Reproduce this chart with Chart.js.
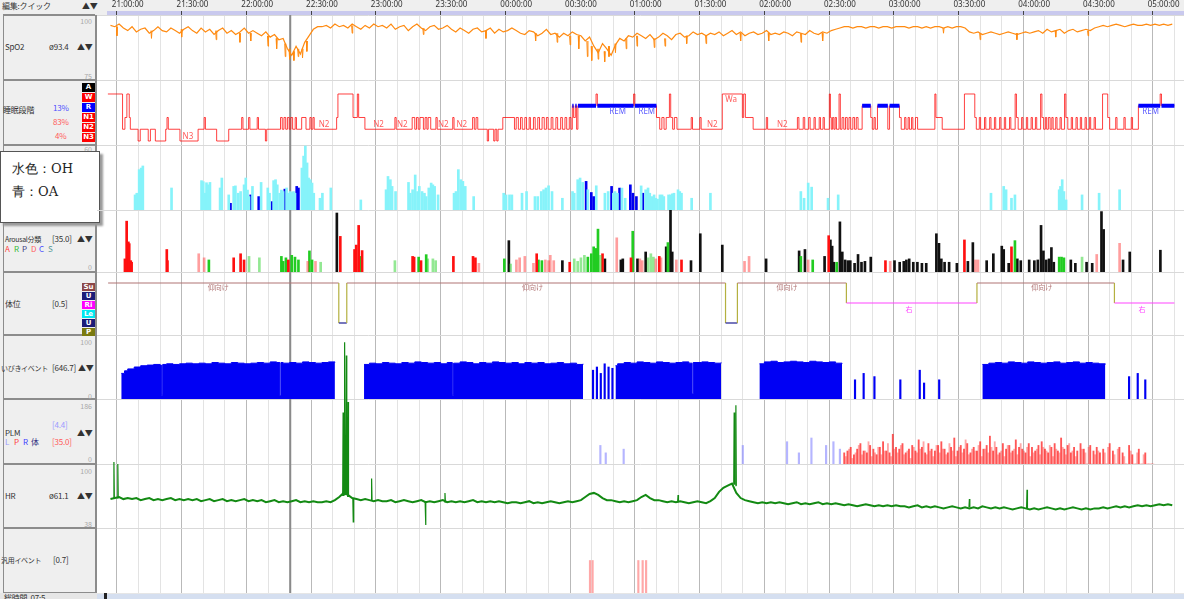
<!DOCTYPE html>
<html>
<head>
<meta charset="utf-8">
<script src="https://cdn.jsdelivr.net/npm/chart.js@4.4.0/dist/chart.umd.min.js"></script>
<style>
html,body{margin:0;padding:0;background:#fff;}
body{width:1184px;height:599px;position:relative;overflow:hidden;font-family:"Noto Sans CJK JP","Noto Sans",sans-serif;color:#333;}
#head{position:absolute;left:0;top:0;width:1184px;height:15px;background:#efefef;}
#band{position:absolute;left:107px;top:11px;width:1077px;height:4px;background:#c9c9ee;}
#side{position:absolute;left:0;top:15px;width:95px;height:578px;background:#efefef;border-right:2px solid #8c8c8c;}
#side .ln{position:absolute;left:3px;top:0;width:1px;height:578px;background:#8c8c8c;}
.pn{position:absolute;left:3px;width:92px;height:2px;background:#8c8c8c;}
.t{position:absolute;font-size:8px;line-height:10px;white-space:nowrap;letter-spacing:-0.2px;}
.s{font-size:7px;letter-spacing:-0.3px;}
.n{position:absolute;font-size:7px;line-height:8px;color:#a8a8a8;text-align:right;width:30px;left:62px;}
.bx{position:absolute;left:82px;width:13px;height:9px;color:#fff;font-size:7px;font-weight:bold;text-align:center;line-height:9px;font-family:"DejaVu Sans",sans-serif;}
#note{position:absolute;left:0;top:151px;width:98px;height:70px;background:#fff;border:1px solid #555;box-shadow:3px 3px 2px #9a9a9a;}
#note div{position:absolute;left:11px;font-size:13px;line-height:16px;font-family:"DejaVu Serif",serif;color:#222;}
#foot{position:absolute;left:0;top:593px;width:1184px;height:6px;background:#e6e6e6;}
#scroll{position:absolute;left:97px;top:594px;width:1087px;height:5px;background:#d5dff0;}
#mark{position:absolute;left:104px;top:593px;width:3px;height:6px;background:#222;}
canvas{position:absolute;left:97px;top:0;}
</style>
</head>
<body>
<div id="head"></div><div id="band"></div>
<div class="t" style="left:2px;top:1px">編集:クイック</div>
<div class="t" style="left:82px;top:1px">▲▼</div>
<div id="side"><div class="ln"></div></div>
<div class="pn" style="top:14px"></div>
<div class="pn" style="top:79px"></div>
<div class="pn" style="top:144px"></div>
<div class="pn" style="top:209px"></div>
<div class="pn" style="top:271px"></div>
<div class="pn" style="top:334px"></div>
<div class="pn" style="top:398px"></div>
<div class="pn" style="top:463px"></div>
<div class="pn" style="top:527px"></div>
<div class="pn" style="top:592px"></div>

<div class="n" style="top:17px">100</div>
<div class="t" style="left:5px;top:42px">SpO2</div>
<div class="t" style="left:49px;top:42px">ø93.4</div>
<div class="t" style="left:77px;top:42px">▲▼</div>
<div class="n" style="top:72px">75</div>

<div class="t" style="left:3px;top:105px">睡眠段階</div>
<div class="t" style="left:53px;top:103px;color:#5050ff">13%</div>
<div class="t" style="left:53px;top:117px;color:#ff5a5a">83%</div>
<div class="t" style="left:55px;top:131px;color:#ff5a5a">4%</div>
<div class="bx" style="top:83px;background:#000">A</div>
<div class="bx" style="top:93px;background:#f00">W</div>
<div class="bx" style="top:103px;background:#00f">R</div>
<div class="bx" style="top:113px;background:#f00">N1</div>
<div class="bx" style="top:123px;background:#f00">N2</div>
<div class="bx" style="top:133px;background:#f00">N3</div>

<div class="n" style="top:145px">60</div>

<div class="t s" style="left:5px;top:234px">Arousal分類</div>
<div class="t" style="left:52px;top:234px">[35.0]</div>
<div class="t" style="left:77px;top:234px">▲▼</div>
<div class="t" style="left:5px;top:244px;color:#ff4040">A</div>
<div class="t" style="left:14px;top:244px;color:#33bb33">R</div>
<div class="t" style="left:22px;top:244px;color:#404080">P</div>
<div class="t" style="left:31px;top:244px;color:#ff6060">D</div>
<div class="t" style="left:39px;top:244px;color:#5050ff">C</div>
<div class="t" style="left:48px;top:244px;color:#5a9a9a">S</div>
<div class="n" style="top:263px">0</div>

<div class="t" style="left:5px;top:299px">体位</div>
<div class="t" style="left:52px;top:299px">[0.5]</div>
<div class="bx" style="top:283px;height:8px;line-height:8px;background:#8c4646">Su</div>
<div class="bx" style="top:292px;height:8px;line-height:8px;background:#1c1c78">U</div>
<div class="bx" style="top:301px;height:8px;line-height:8px;background:#ff00ff">Ri</div>
<div class="bx" style="top:310px;height:8px;line-height:8px;background:#00e8f0">Le</div>
<div class="bx" style="top:319px;height:8px;line-height:8px;background:#1c1c78">U</div>
<div class="bx" style="top:328px;height:8px;line-height:8px;background:#7a7a10">P</div>

<div class="n" style="top:338px">100</div>
<div class="t s" style="left:1px;top:363px">いびきイベント</div>
<div class="t" style="left:52px;top:363px">[646.7]</div>
<div class="t" style="left:78px;top:363px">▲▼</div>
<div class="n" style="top:392px">0</div>

<div class="n" style="top:402px">186</div>
<div class="t" style="left:52px;top:420px;color:#9a9aff">[4.4]</div>
<div class="t" style="left:5px;top:428px">PLM</div>
<div class="t" style="left:77px;top:428px">▲▼</div>
<div class="t" style="left:5px;top:437px;color:#9a9aff">L</div>
<div class="t" style="left:14px;top:437px;color:#ff4040">P</div>
<div class="t" style="left:23px;top:437px;color:#4040ff">R</div>
<div class="t" style="left:31px;top:437px;color:#303080">体</div>
<div class="t" style="left:52px;top:437px;color:#ff5a5a">[35.0]</div>
<div class="n" style="top:455px">0</div>

<div class="n" style="top:467px">100</div>
<div class="t" style="left:5px;top:491px">HR</div>
<div class="t" style="left:49px;top:491px">ø61.1</div>
<div class="t" style="left:77px;top:491px">▲▼</div>
<div class="n" style="top:520px">38</div>

<div class="t s" style="left:1px;top:555px">汎用イベント</div>
<div class="t" style="left:53px;top:555px">[0.7]</div>

<div id="note"><div style="top:9px">水色：OH</div><div style="top:32px">青：OA</div></div>
<div id="foot"></div>
<div class="t" style="left:4px;top:593px">総時間 &nbsp;07:5</div>
<div id="scroll"></div><div id="mark"></div>

<canvas id="psg" width="1087" height="593"></canvas>
<script>
// 時間軸 (21:00 からの分)
var timeLabels = ['21:00:00','21:30:00','22:00:00','22:30:00','23:00:00','23:30:00','00:00:00','00:30:00','01:00:00','01:30:00','02:00:00','02:30:00','03:00:00','03:30:00','04:00:00','04:30:00','05:00:00'];
var cursorMinute = 75.3;

// SpO2 (2分ごと, -8分から)
var spo2Start = -8, spo2Step = 2;
var spo2 = [96,95.5,96.5,95,
 94,95.5,93.5,94.5,95,93,94,95.5,94,93.5,95,94,93,94.5,95.5,
 94,93,95,93.5,94.5,92.5,94,95,93,94,92.5,93.5,95,93,94,
 93,92,93.5,91.5,92.5,90.5,91,87,84.5,88,85,89.5,92,94.5,95.5,
 95.5,96,95,96.5,95.5,96,95,96.5,95.5,94.5,96,95,96.5,95.5,96,
 95,96.5,94.5,95.5,96,94,95.5,96.5,95,94,95.5,96,94.5,95,96,
 94.5,93.5,95,94,93,94.5,95,93.5,94,95,93,94.5,93.5,94,95,
 94,93,92.5,94,93.5,92,93,94.5,92.5,93,91.5,93,92,93.5,92.5,
 92,90,91.5,88,85.5,89,87,84.5,88.5,91,90,92,91.5,93,92,
 91,92.5,90.5,91.5,93,92,90.5,92.5,93,91.5,92,93.5,92.5,93,92,
 93,92.5,93.5,92,93,94,92.5,93.5,92,93,93.5,92.5,93,94,92.5,
 93,92.5,93.5,93,92,93.5,93,92.5,94,93,92.5,93.5,93,94,94.5,
 95,95.5,95.5,95,95.5,95.5,95,95.5,95.5,95,95.5,95.5,95,95.5,95.5,
 95.5,95,95.5,95.5,95,95.5,95,95.5,95.5,95,95.5,95,95.5,95.5,95,
 93.5,93,93.5,92.5,93,93.5,93,92.5,93,93.5,93,92.5,93,93.5,93,
 93.5,94,93,94.5,93.5,94,94.5,93,94,94.5,93.5,94,94.5,94,95,
 95.5,96,95.5,96,96.5,96,95.5,96,96.5,96,96,96.5,96,96.5,96,
 96.5,96,96.5];
// 短い低下 [分, 基線, 最低値]
var spo2Dips = [[-5,95.5,92],[11,94,91],[25,94.5,91.5],[41,94,90.5],[52,93,89.5],[57,93,90],[65,92,88],[69,91,87],[73,89,84],[75,87,83],[77,86,82.5],[79,87,84],[81,87,83.5],[83,90,86],[104,96,93],[137,95,92.5],[166,94,91],[189,93,90],[199,93,89.5],[205,92,88.5],[209,92,87],[213,90,84],[215,88,82.5],[218,87,83],[221,86,82],[223,88,84],[226,89,85.5],[231,91,87],[236,92,88],[244,91,87.5],[249,91,88],[259,92,89],[268,92,89],[284,93,90],[297,93,90],[312,93,89.5],[322,93,90],[378,95,93],[395,93,90.5],[412,93,90.5],[430,94,91.5],[445,94,92]];

// 睡眠段階 [開始分, 段階] 4=W 3=R 2=N1 1=N2 0=N3
var hypnogram = [[-9.2,4],[-2.4,1],[-1.3,2],[-0.4,4],[0.7,2],[1.2,1],[4.8,0],[5.8,1],[9.5,0],[10.5,1],[12.8,0],[17.6,1],[18.2,2],[18.8,1],[24.2,0],[32.6,1],[35.4,2],[36,1],[41.2,0],[46.8,1],[52.8,2],[53.4,1],[56,2],[56.6,1],[60,2],[60.6,1],[63.8,0],[64.4,1],[70.8,2],[71.6,1],[72.4,2],[73.2,1],[74,2],[74.8,1],[75.6,2],[76.4,1],[77.6,2],[78.2,1],[80.6,2],[82.6,1],[84.4,2],[85,1],[85.8,2],[86.4,1],[96.8,2],[97.4,4],[104.4,2],[106.4,4],[107,2],[109.9,1],[123.8,2],[124.4,1],[131.8,2],[133,1],[133.8,2],[134.6,1],[135.4,2],[137,1],[137.8,2],[138.6,1],[139.2,2],[140.4,1],[142.8,2],[143.4,1],[150.6,2],[151.2,1],[159.8,2],[160.6,1],[161.4,2],[162.2,1],[166.6,0],[167.2,1],[169.6,0],[170.2,1],[171,0],[171.6,1],[173.8,2],[179.2,1],[180,2],[181,1],[182,2],[182.8,1],[184,2],[184.8,1],[186,2],[186.6,1],[188,2],[188.8,1],[190,2],[190.8,1],[192,2],[193,1],[194,2],[194.8,1],[196.2,2],[197,1],[198.4,2],[199.2,1],[200.6,2],[201.4,1],[202.6,2],[203.4,1],[204.6,2],[205.4,1],[206,3],[206.6,2],[207.4,3],[208,1],[208.6,3],[217,4],[217.6,3],[234.4,4],[235,3],[245,2],[246.5,1],[247.5,2],[248.5,1],[249.5,2],[251,4],[251.6,2],[252.5,1],[253.3,2],[254.5,1],[261.1,2],[261.7,1],[265.1,2],[265.7,1],[275.5,4],[284.8,2],[285.4,4],[286.2,2],[289.8,1],[295.9,2],[296.5,1],[310.3,2],[311,1],[313,2],[313.7,1],[315.5,2],[316.2,1],[318,2],[318.6,1],[320.4,2],[321,1],[322.2,2],[322.8,1],[325.1,4],[325.6,2],[326,1],[326.6,2],[327.2,1],[327.8,2],[328.4,1],[329.6,4],[330.2,1],[331,2],[331.8,1],[332.6,2],[333.4,1],[334.2,2],[335,1],[336,2],[336.8,1],[337.6,2],[338.4,1],[340.3,3],[344.3,2],[345,1],[345.8,2],[346.4,1],[347.4,3],[352.2,1],[353,3],[357.6,2],[358.4,1],[360,2],[360.6,1],[361.6,2],[362.2,1],[363.2,2],[363.8,1],[365,2],[366,1],[374,4],[374.5,2],[377.4,1],[387.7,4],[392.5,2],[393.2,1],[394.6,2],[395.2,1],[397,2],[397.6,1],[399.4,2],[400,1],[401.6,2],[402.2,1],[404,2],[404.6,1],[406.2,2],[406.8,1],[408.6,2],[409.2,1],[411.2,4],[411.8,2],[412.6,1],[414.2,2],[414.8,1],[416.4,2],[417,1],[418.6,2],[419.2,1],[420.6,2],[421.2,1],[423,4],[423.6,2],[424.4,1],[425.2,2],[425.8,1],[426.6,2],[427.4,1],[428.2,2],[428.8,1],[430,2],[430.6,1],[432,2],[432.6,1],[434.1,4],[434.7,2],[435.6,1],[437.2,2],[437.8,1],[439.4,2],[440,1],[441.4,2],[442,1],[443.6,2],[444.2,1],[445.6,2],[446.2,1],[447.8,2],[448.4,1],[451.7,4],[454.1,2],[455,1],[457.8,2],[458.4,1],[461.6,2],[462.2,1],[465,2],[465.6,1],[468.3,3],[478.4,4],[479,3],[485,3]];
var stageNotes = [[27.9,0.38,'N3'],[91,1.38,'N2'],[116.2,1.38,'N2'],[127.2,1.38,'N2'],[146.2,1.38,'N2'],[154.8,1.38,'N2'],[270.9,1.38,'N2'],[303.3,1.38,'N2'],[227,2.45,'REM'],[240.5,2.45,'REM'],[474,2.45,'REM'],[279.6,3.5,'Wa']];

// 呼吸イベント [分, 値]
var ohEvents = [[3.4,14.4],[4.2,16],[5.3,38.5],[6.2,40],[7,42],[20.3,21],[34.2,28],[35,27],[35.7,16],[36.5,26],[37.3,24],[38.1,26.3],[42.8,21],[43.6,30.5],[46.8,14.4],[49.1,22.5],[49.9,23],[51.2,16],[52.3,17.6],[53.9,24],[54.7,30.5],[55.5,19],[56.2,12.8],[57.8,22.5],[61.8,26.3],[64.9,21],[65.7,16],[67.6,28],[68.5,28.9],[69.3,24],[70.4,16],[71.2,19],[72,17.6],[73.6,21],[74.4,16],[75.2,17.6],[76,16.7],[76.8,17.6],[77.5,16],[80.7,40],[81.5,51.4],[82.3,61],[83.1,44.9],[83.8,30.5],[84.6,28.9],[85.4,25.7],[86.2,16],[89.1,11.2],[90.2,16],[94.1,21],[108,9.6],[119.7,19.3],[120.6,32],[121.7,28.9],[122.5,22.5],[124.1,17.6],[130.1,26.3],[130.9,16],[132,19.3],[133.2,33.4],[134.3,17.6],[135.1,22.5],[136.4,17.6],[137.5,16],[138.3,12.8],[139.5,21],[140.6,25.7],[141.4,24],[142.2,22.5],[143.8,14.4],[151.2,16],[152.1,17.6],[153.2,38.5],[154.3,28.9],[155.3,27.3],[156.4,22.5],[160.3,12.8],[174.2,16],[175.3,14.4],[176.9,14.4],[178,14.4],[182.7,16],[184.8,17.6],[188.7,12.8],[190,12.8],[191.6,17.6],[192.7,19.3],[193.8,21],[195,23.1],[196.6,17.6],[201.4,11.2],[206.1,17.6],[206.9,16],[208.5,28.9],[209.6,30.5],[210.8,26.3],[213.2,19.3],[217.1,23.1],[221.1,16],[222.6,17.6],[225,16],[225.8,17.6],[226.9,16],[229,20.9],[230.5,11.2],[237.9,23],[240,19.3],[241.1,21],[241.9,16],[242.8,12.8],[243.9,14.4],[244.7,11.2],[245.5,10.3],[246.6,14.4],[247.6,14.4],[248.4,12.8],[250.6,14.4],[251.5,14.4],[252.3,15.4],[253.1,16],[255,19.3],[255.8,17.6],[256.6,16],[261.3,11.2],[270,16],[311.9,17.6],[313.4,11.2],[315.3,25.7],[316.9,21.8],[324.5,11.2],[329.2,14.4],[400,16],[405.9,22.5],[407,19.3],[409.5,11.2],[411.1,14.4],[431.6,19.3],[432.2,22.5],[433,28.9],[433.8,17.6],[434.8,9.6],[442.2,14.4],[450.1,16],[459.6,19.3]];
var oaEvents = [[47.6,6.4],[57,14.4],[60.7,12.8],[66.8,8],[72.8,19.9],[78.3,22.5],[79.1,21],[212.4,27.3],[214.8,16.7],[215.9,12.8],[224.2,22.5],[227.9,20.9],[232.9,24],[234.1,16],[235.7,12.8],[238.7,16]];

// Arousal [分, 値]
var arousalRed = [[-1.3,7.4],[-0.5,28.7],[0.3,17],[0.7,16],[1.4,6.4],[1.8,5.5],[18.1,12.7],[18.4,6.4],[49.1,8],[52.3,10.3],[53.9,6.8],[74.4,6.8],[98.5,20.1],[105.1,12.7],[105.9,15.2],[107,26.3],[108.6,12.1],[132,8.8],[132.7,8.4],[135.9,6.4],[150.9,8.8],[160,8.8],[161.1,8],[189.5,10.3],[204.8,5.5],[220,10.3],[233.2,8],[246.3,8.8],[256.6,6.8],[324.8,20.5],[351.1,6.4],[387.7,18.1],[409.5,14.2]];
var arousalPink = [[32.9,10.3],[35.4,8],[83.4,6],[87,6],[162.7,4.9],[180.1,6.8],[181.6,8],[184,8.8],[188,4.9],[193.5,6.8],[195,6.4],[195.8,9.4],[197.4,6.4],[226.6,19.3],[237.3,7.4],[238.4,6.4],[244.7,7.4],[247.1,8],[254.2,6.8],[285.8,6],[287.9,8.8],[315.3,6.8],[353.3,6],[392.8,6.8],[394,6.8],[449,9.9],[459.6,16.2]];
var arousalGreen = [[37.6,6.8],[71.2,8.8],[72,6],[73.3,8],[76,9.4],[77.5,8.4],[79.1,6.8],[84.2,11.9],[85.4,6.8],[108,8.8],[134.8,8.4],[138.3,9.8],[174.5,7.4],[190.3,6.8],[191.9,6.4],[213.2,8.4],[214.8,10.3],[215.9,14.2],[217.1,13.3],[217.9,24.2],[234,23],[250.3,16.6],[311.9,8.8],[317.4,6.8],[328.5,5.5],[411.1,17.7],[431.6,8.4],[432.7,8.4],[433.8,8]];
var arousalLime = [[56.2,8.8],[61,8],[89.4,5.5],[123.8,6.4],[139,7.4],[141.4,7.4],[142.7,6.4],[177.4,4.5],[206.9,7.4],[208.5,6],[210,8],[211.6,9.4],[219,9.4],[241.1,8],[242.4,10.3],[243.6,8.4],[442.2,8.4]];
var arousalBlack = [[96.9,33.3],[176.6,17.7],[201.4,6.4],[221.1,7.4],[228.5,6.8],[229.4,7.4],[236.2,7.4],[240,11.3],[249.5,14.2],[251.5,35],[252.3,11.3],[261,6.4],[265.3,21.6],[275.5,15.2],[295.8,7.4],[311.1,11.9],[313.8,12.7],[322.9,8.8],[325.6,18.1],[326.4,14.6],[327.2,5.5],[330,28.3],[331.1,11.3],[332.4,6.8],[333.7,6.4],[334.8,6.4],[336.8,4.9],[338.4,9.9],[340,5.5],[341.6,6],[344.3,8.4],[355.3,6.4],[357.7,5.5],[359.6,6],[360.8,6.8],[362.1,7.4],[364,5.5],[365.9,5.5],[368,4.9],[370,4.9],[374.7,21.6],[375.9,16.2],[377,7.4],[378.5,5.5],[380.6,5.5],[384.2,4.9],[389.3,6],[391.6,16.6],[398,6.4],[401.1,10.3],[405,14.6],[405.9,12.7],[408.2,4.9],[412.2,7.4],[413.8,6.4],[417.7,6.8],[420.1,6.4],[421.7,6.8],[423.2,26.3],[424.3,11.9],[425.6,6.8],[426.9,7.4],[428,13.8],[429.1,5.5],[437,6.8],[439.1,4.9],[444.3,5.5],[446.9,4.9],[451.2,34.1],[452.2,24],[461.2,6.8],[464.3,11.3],[478.5,12.3]];

// 体位 5=Su 4=U 3=Ri 2=Le 1=U 0=P
var posTimes = [-9.1, 97.8, 101.5, 277, 282.5, 333, 393.5, 457.2, 485];
var posLevels = [5, 1, 5, 1, 5, 3, 5, 3, 3];
var posNotes = [[42,4.55,'仰向け'],[187.5,4.55,'仰向け'],[305.5,4.55,'仰向け'],[423.5,4.55,'仰向け'],[362,2.4,'右'],[470,2.4,'右']];

// いびき
var snoreFill = [[-3,40],[-1.5,44],[0,47],[3,50],[6,52],[9,53],[12,54],[15,53],[15.6,6],[16.2,54],[18,55],[21,54],[24,55],[27,56],[30,55],[33,56],[36,55],[39,57],[42,56],[45,55],[48,57],[51,56],[54,55],[57,56],[60,57],[63,56],[66,58],[69,57],[70.5,5],[71,57],[72,56],[75,57],[78,56],[81,58],[84,57],[87,56],[90,57],[93,58],[96,57],[97.5,null],
 [109.5,54],[112,56],[115,55],[118,57],[121,56],[124,55],[127,57],[130,56],[133,58],[136,57],[139,56],[142,57],[145,55],[148,57],[150.4,6],[151,56],[154,58],[157,57],[160,55],[163,57],[166,56],[169,58],[172,57],[175,56],[178,57],[181,55],[184,57],[187,56],[190,57],[193,55],[196,56],[199,57],[202,55],[205,56],[208,54],[211,55],[214,null],
 [226,52],[227,55],[230,57],[233,56],[236,58],[239,57],[242,56],[245,58],[248,57],[251,56],[254,57],[257,58],[260,56],[261.5,8],[262,57],[266,58],[269,57],[272,56],[275,57],[277.3,null],
 [292.7,55],[295,58],[298,59],[301,57],[304,58],[307,59],[310,58],[313,57],[316,59],[319,58],[322,57],[325,58],[328,56],[331,55],[333,null],
 [396,54],[399,56],[402,57],[405,56],[408,58],[411,57],[414,56],[417,58],[420,57],[423,56],[426,57],[429,58],[432,56],[435,57],[438,58],[441,56],[444,57],[447,56],[450,55],[453,54],[455.2,null]];
var snoreBars = [[215.6,45],[217.4,50],[219.2,40],[221,55],[222.8,50],[224.6,48],[337,30],[341,40],[346,35],[358,30],[367,45],[369,25],[376,30],[464,35],[468,40],[471.5,30]];

// PLM
var plmStart = 332, plmStep = 1.5;
var plmRed = [6,7,9,5,8,11,7,6,10,8,
 5,9,12,7,6,16,9,8,11,6,
 8,10,7,13,9,6,11,8,7,10,
 12,8,6,9,14,7,10,8,11,6,
 9,7,12,8,10,15,7,9,6,11,
 8,10,7,13,9,8,6,11,9,7,
 10,12,8,6,9,11,7,14,8,10,
 6,9,7,11,8,0,10,7,9,6,
 8,0,11,7,0,9,6,0,10,5,
 0,8,0,6,0,0];
var plmPinkStart = 332.75;
var plmPink = [4,8,3,6,10,5,7,12,4,6,
 9,5,7,11,4,8,6,10,5,7,
 3,9,6,8,12,5,7,4,10,6,
 8,5,11,7,4,9,6,13,5,8,
 7,10,4,8,6,9,12,5,7,4,
 10,6,8,5,11,7,9,4,6,8,
 5,9,7,10,4,8,6,9,5,11,
 7,4,0,8,6,9,0,5,7,0,
 6,9,0,5,8,0,4,0,7,0,
 6,0,5,0,0,0];
var plmLilac = [[219,10],[221.5,6],[229.8,8],[285,10],[305.5,12],[311,6],[316.8,14],[323.6,10],[327,12],[330,8]];

// HR (2分ごと, -8分から)
var hrStart = -8, hrStep = 2;
var hr = [66,67,68,66,
 67,66,67,65,66,67,65,66,65,66,67,65,66,65,66,
 65,66,64,65,66,64,65,66,64,65,64,65,66,64,65,
 64,65,63,64,65,63,64,63,64,65,63,64,63,64,63,
 63,64,63,65,68,72,70,67,66,65,66,65,64,65,64,
 64,65,63,64,65,64,63,64,65,63,64,63,64,65,63,
 64,63,64,63,64,65,63,64,63,64,63,64,63,62,63,
 63,62,63,64,62,63,62,63,64,63,62,63,64,63,64,
 65,68,71,72,70,67,65,65,64,63,64,63,64,65,68,
 70,67,65,65,64,63,64,63,64,63,62,63,64,63,62,
 64,67,73,77,79,81,72,67,65,64,63,62,63,62,63,
 62,63,62,61,62,63,61,62,61,62,63,61,62,61,62,
 61,60,61,60,59,60,61,60,59,60,59,60,59,60,59,
 59,58,59,60,58,59,58,59,58,57,58,59,58,57,58,
 57,58,57,59,58,57,58,57,58,57,56,57,58,57,56,
 57,56,57,58,57,56,57,56,57,58,57,56,57,56,57,
 57,58,57,58,59,58,59,58,59,60,59,60,59,60,61,
 60,61,60];
// [分, 基線, ピーク]
var hrSpikes = [[-6.4,67,102],[-4.6,67,100],[99.8,69,150],[100.5,70,218],[101.3,70,205],[102.1,68,160],[104.5,67,44],[113,65,86],[138,64,41],[147,63,72],[255,63,70],[281,80,150],[281.8,79,157],[390,58,66],[416.7,57,75]];

// 汎用イベント
var generalEvents = [[214.2,1],[215.4,1],[236.6,1],[238.6,1],[240.2,1]];

// ---- 描画 ----
var series = function(start, step, vals){ return vals.map(function(v,i){ return {x:start+i*step, y:v}; }); };
var pts = function(arr){ return arr.map(function(p){ return {x:p[0], y:p[1]}; }); };
var spikes = function(list, half){
  var out = [];
  list.forEach(function(s){
    out.push({x:s[0]-half, y:s[1]}, {x:s[0], y:s[2]}, {x:s[0]+half, y:s[1]}, {x:s[0]+half+0.01, y:null});
  });
  return out;
};

var hypnoPts = pts(hypnogram);
var remPts = [];
for (var i = 0; i < hypnogram.length-1; i++) {
  if (hypnogram[i][1] === 3) {
    remPts.push({x:hypnogram[i][0], y:3}, {x:hypnogram[i+1][0], y:3}, {x:hypnogram[i+1][0]+0.01, y:null});
  }
}
var posPts = [{x:posTimes[0], y:posLevels[0]}];
for (var j = 1; j < posTimes.length; j++) {
  posPts.push({x:posTimes[j], y:posLevels[j-1]}, {x:posTimes[j], y:posLevels[j]});
}
var posColors = {5:'#b07474', 4:'#1c1c78', 3:'#ff44ff', 2:'#00d8e8', 1:'#1c1c90', 0:'#7a7a10'};
var gridMinutes = [];
for (var m = 0; m <= 480; m += 10) gridMinutes.push(m);

function tickVal(c) { return c && c.tick ? c.tick.value : 1; }

function panelAxis(weight, stackWeight, min, max) {
  return {
    type:'linear', position:'left', stack:'panels', stackWeight:stackWeight, weight:weight,
    min:min, max:max, stacked:false,
    afterBuildTicks: function(s){ s.ticks = [{value:max}]; },
    ticks:{display:false}, grid:{drawTicks:false, color:'#d9d9d9'}, border:{display:false}
  };
}
function bars(data, axis, color, thick) {
  return {type:'bar', yAxisID:axis, data:data, backgroundColor:color, barThickness:thick || 2, stack:'bars', borderWidth:0};
}

var overlay = {
  id:'overlay',
  beforeDatasetsDraw: function(chart){
    var c = chart.ctx, a = chart.chartArea, px = chart.scales.x.getPixelForValue(cursorMinute);
    c.save(); c.strokeStyle = '#8a8a8a'; c.lineWidth = 2;
    c.beginPath(); c.moveTo(px, a.top); c.lineTo(px, a.bottom); c.stroke(); c.restore();
  },
  afterDatasetsDraw: function(chart){
    var c = chart.ctx, x = chart.scales.x;
    c.save(); c.textAlign = 'center'; c.textBaseline = 'middle';
    c.font = '8px "Noto Sans", sans-serif';
    stageNotes.forEach(function(n){
      c.fillStyle = n[2] === 'REM' ? '#5a5aff' : '#ff5a5a';
      c.fillText(n[2], x.getPixelForValue(n[0]), chart.scales.yStage.getPixelForValue(n[1]));
    });
    c.font = '7px "Noto Sans CJK JP", sans-serif';
    posNotes.forEach(function(n){
      c.fillStyle = n[2] === '右' ? '#ff44ff' : '#b07474';
      c.fillText(n[2], x.getPixelForValue(n[0]), chart.scales.yPos.getPixelForValue(n[1]));
    });
    c.restore();
  }
};

new Chart(document.getElementById('psg').getContext('2d'), {
  type:'line',
  data:{datasets:[
    {yAxisID:'yHr', data:series(hrStart, hrStep, hr), borderColor:'#138a13', borderWidth:2, pointRadius:0, order:-2, clip:false},
    {yAxisID:'yHr', data:spikes(hrSpikes, 0.2), borderColor:'#138a13', borderWidth:1.2, pointRadius:0, spanGaps:false, order:-2, clip:false},
    {yAxisID:'ySpo2', data:series(spo2Start, spo2Step, spo2), borderColor:'#ff8a10', borderWidth:1.2, pointRadius:0},
    {yAxisID:'ySpo2', data:spikes(spo2Dips, 0.25), borderColor:'#ff8a10', borderWidth:1, pointRadius:0, spanGaps:false},
    {yAxisID:'yStage', data:remPts, borderColor:'#0000ff', borderWidth:4, pointRadius:0, spanGaps:false, order:-1},
    {yAxisID:'yStage', data:hypnoPts, stepped:true, borderColor:'rgba(255,0,0,0.75)', borderWidth:1, pointRadius:0},
    bars(pts(ohEvents), 'yResp', '#86f3fa', 2),
    bars(pts(oaEvents), 'yResp', '#0000f0', 2),
    bars(pts(arousalPink), 'yArousal', 'rgba(255,40,40,0.45)', 2),
    bars(pts(arousalLime), 'yArousal', 'rgba(40,210,40,0.5)', 2),
    bars(pts(arousalRed), 'yArousal', '#ff1010', 2),
    bars(pts(arousalGreen), 'yArousal', '#22cc22', 2),
    bars(pts(arousalBlack), 'yArousal', '#111', 2),
    {yAxisID:'yPos', data:posPts, borderWidth:1.2, pointRadius:0,
      segment:{borderColor:function(s){ return s.p0.parsed.y === s.p1.parsed.y ? posColors[s.p0.parsed.y] : '#b4b040'; }}},
    {yAxisID:'ySnore', data:pts(snoreFill), stepped:true, fill:'origin', backgroundColor:'#0000f4', borderColor:'#0000f4', borderWidth:1, pointRadius:0, spanGaps:false},
    bars(pts(snoreBars), 'ySnore', '#0000f4', 1.5),
    bars(pts(plmLilac), 'yPlm', 'rgba(120,120,255,0.55)', 1.5),
    bars(series(plmStart, plmStep, plmRed), 'yPlm', 'rgba(255,30,30,0.75)', 1.2),
    bars(series(plmPinkStart, plmStep, plmPink), 'yPlm', 'rgba(255,60,60,0.45)', 1.2),
    bars(pts(generalEvents), 'yGen', '#ffa8a8', 1.5)
  ]},
  options:{
    responsive:false, animation:false, events:[],
    layout:{padding:0},
    plugins:{legend:{display:false}, tooltip:{enabled:false}},
    scales:{
      x:{type:'linear', position:'top', min:-9.1, max:484.3,
        afterBuildTicks: function(s){ s.ticks = gridMinutes.map(function(v){ return {value:v}; }); },
        afterFit: function(s){ s.height = 15; },
        ticks:{autoSkip:false, maxRotation:0, padding:1, color:'#333', font:{size:8, family:'"Noto Sans", sans-serif'},
          callback: function(v){ return v % 30 === 0 ? timeLabels[v/30] : ''; }},
        grid:{color:function(c){ return tickVal(c) % 30 === 0 ? '#b9b9b9' : '#e3e3e3'; },
          tickColor:function(c){ return tickVal(c) % 30 === 0 ? '#444' : 'rgba(0,0,0,0)'; }, tickLength:4},
        border:{display:false}
      },
      ySpo2: panelAxis(9, 65, 75, 100),
      yStage: panelAxis(8, 65, -0.34, 5.19),
      yResp: panelAxis(7, 65, 0, 62),
      yArousal: panelAxis(6, 62, 0, 35),
      yPos: panelAxis(5, 63, -0.2, 6.1),
      ySnore: panelAxis(4, 64, 0, 100),
      yPlm: panelAxis(3, 65, 0, 35),
      yHr: panelAxis(2, 64, 38, 100),
      yGen: panelAxis(1, 65, 0, 2)
    }
  },
  plugins:[overlay]
});
</script>
</body>
</html>
